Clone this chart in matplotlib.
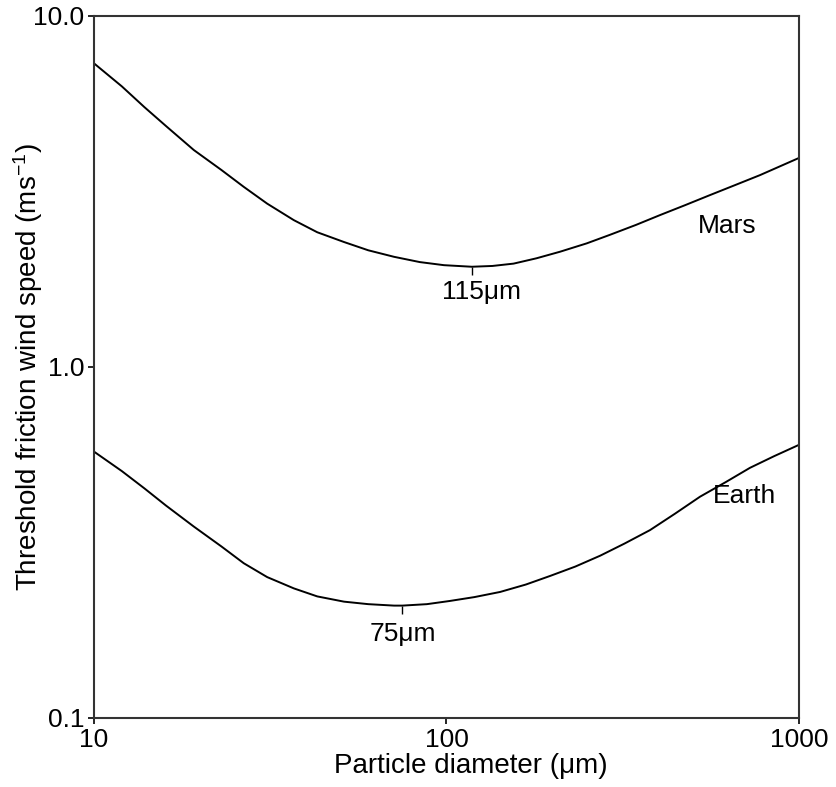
import numpy as np
import matplotlib.pyplot as plt
from matplotlib.ticker import FixedLocator, FixedFormatter, NullLocator

plt.rcParams['font.family'] = ['Liberation Sans', 'DejaVu Sans']
plt.rcParams['mathtext.default'] = 'regular'

# particle diameter (um) and threshold friction speed (m/s)
mars_d = [10, 12, 13.9, 16, 19.2, 23, 26.6, 31, 36.9, 43, 51.2, 60, 71.0, 84, 98.4, 118,
          135, 155, 180, 210, 250, 291, 345, 404, 475, 560, 660, 775, 1000]
mars_u = [7.33, 6.3, 5.5, 4.86, 4.15, 3.64, 3.26, 2.92, 2.62, 2.42, 2.27, 2.15, 2.06, 1.99, 1.95, 1.93,
          1.94, 1.97, 2.04, 2.13, 2.25, 2.38, 2.54, 2.71, 2.89, 3.09, 3.30, 3.52, 3.94]

earth_d = [10, 12, 13.9, 16, 19.2, 23, 26.6, 31, 36.9, 43, 51.2, 60, 71.0, 75, 88, 102,
           120, 142, 168, 197, 232, 273, 320, 378, 445, 524, 620, 726, 850, 1000]
earth_u = [0.574, 0.505, 0.451, 0.403, 0.351, 0.308, 0.276, 0.252, 0.234, 0.222, 0.2145, 0.211, 0.209, 0.209,
           0.211, 0.2154, 0.221, 0.2286, 0.240, 0.254, 0.270, 0.290, 0.314, 0.343, 0.382, 0.427, 0.470, 0.516, 0.557, 0.60]

mars_min = (118, 1.93)
earth_min = (75, 0.209)

x_ticks = [10, 100, 1000]
x_ticklabels = ['10', '100', '1000']
y_ticks = [0.1, 1.0, 10.0]
y_ticklabels = ['0.1', '1.0', '10.0']

fig = plt.figure(figsize=(8.36, 7.87), dpi=100)
ax = fig.add_axes([0.1124, 0.0877, 0.8433, 0.892])

ax.plot(mars_d, mars_u, color='black', lw=1.4)
ax.plot(earth_d, earth_u, color='black', lw=1.4)

# little tick marks at the minima
ax.plot([mars_min[0]], [mars_min[1]], marker=3, color='black', ms=6, mew=1)
ax.plot([earth_min[0]], [earth_min[1]], marker=3, color='black', ms=6, mew=1)

ax.set_xscale('log')
ax.set_yscale('log')
ax.set_xlim(10, 1000)
ax.set_ylim(0.1, 10)

ax.xaxis.set_major_locator(FixedLocator(x_ticks))
ax.xaxis.set_major_formatter(FixedFormatter(x_ticklabels))
ax.yaxis.set_major_locator(FixedLocator(y_ticks))
ax.yaxis.set_major_formatter(FixedFormatter(y_ticklabels))
ax.xaxis.set_minor_locator(NullLocator())
ax.yaxis.set_minor_locator(NullLocator())

fs = 19
ax.tick_params(direction='out', length=4, width=1.2, labelsize=fs, pad=3, colors='black')
for s in ax.spines.values():
    s.set_linewidth(1.5)
    s.set_color('#333333')

ax.text(126, 1.63, '115\u03bcm', ha='center', va='center', fontsize=fs)
ax.text(earth_min[0], 0.174, '75\u03bcm', ha='center', va='center', fontsize=fs)
ax.text(625, 2.52, 'Mars', ha='center', va='center', fontsize=fs)
ax.text(700, 0.43, 'Earth', ha='center', va='center', fontsize=fs)

ax.set_xlabel('Particle diameter (\u03bcm)', fontsize=20)
ax.xaxis.label.set_va('center')
ax.xaxis.set_label_coords(0.535, -0.069)
ax.set_ylabel('Threshold friction wind speed (ms$^{-1}$)', fontsize=20)
ax.yaxis.label.set_va('center')
ax.yaxis.set_label_coords(-0.094, 0.5)

fig.savefig('out.png', dpi=100)
